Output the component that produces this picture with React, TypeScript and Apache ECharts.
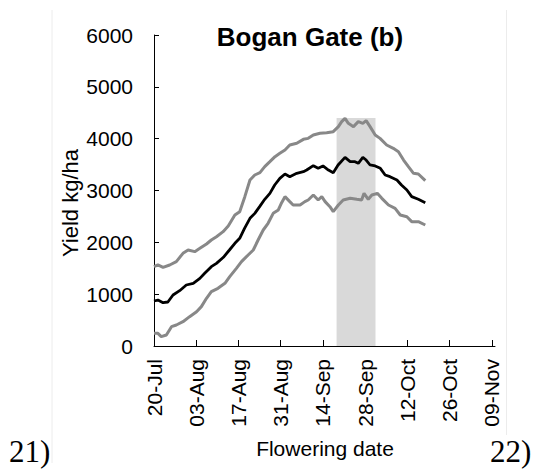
import React, { useEffect, useRef } from "react";
import * as echarts from "echarts";

// X axis: days after 20-Jul
const xTickDays = [0, 14, 28, 42, 56, 70, 84, 98, 112];
const xTickLabels = ["20-Jul", "03-Aug", "17-Aug", "31-Aug", "14-Sep", "28-Sep", "12-Oct", "26-Oct", "09-Nov"];

const meanDays = [0, 1.3, 3, 4.6, 6.3, 8.5, 10.7, 13, 15.2, 16.8, 19, 20.7, 23, 25, 26.8, 28.4, 30, 31.8, 33.4, 35, 36.7, 38.4, 40, 41.7, 43.4, 45, 47.3, 49.5, 50.6, 52.8, 54.4, 56, 57.8, 59.4, 61, 63.3, 65, 66.6, 67.7, 69.2, 70.3, 71.6, 73.3, 75, 76.6, 78.2, 80.5, 82, 83.8, 85.4, 87.6, 89.9];
const meanYield = [868, 887, 836, 849, 984, 1067, 1177, 1209, 1305, 1402, 1530, 1595, 1711, 1852, 1981, 2077, 2270, 2463, 2559, 2688, 2830, 2945, 3106, 3235, 3318, 3267, 3331, 3363, 3395, 3479, 3428, 3473, 3395, 3344, 3492, 3640, 3556, 3556, 3524, 3640, 3588, 3492, 3473, 3428, 3299, 3267, 3203, 3106, 3010, 2881, 2830, 2765];

const upperDays = [0, 1.3, 3, 5.2, 7.4, 9.6, 11.3, 13.5, 15.2, 17.4, 19, 20.7, 22.9, 24.6, 26.8, 28.4, 30.1, 31.8, 33.4, 35.1, 36.7, 38.4, 40.1, 41.7, 43.4, 45, 47.3, 49.5, 51.1, 52.8, 55, 57.2, 59.4, 61.1, 62.2, 63.3, 64.4, 66.1, 67.7, 69.2, 70.3, 71.6, 73.3, 74.9, 77.1, 79.3, 81, 82.7, 84.3, 86, 87.6, 89.9];
const upperYield = [1530, 1563, 1518, 1563, 1627, 1788, 1852, 1820, 1884, 1968, 2045, 2109, 2206, 2315, 2527, 2592, 2881, 3203, 3299, 3344, 3460, 3556, 3653, 3717, 3781, 3878, 3910, 3987, 4006, 4071, 4103, 4116, 4135, 4232, 4328, 4392, 4296, 4232, 4328, 4296, 4347, 4232, 4071, 4006, 3878, 3813, 3749, 3588, 3460, 3331, 3318, 3190];

const lowerDays = [0, 1.3, 2.4, 4.1, 5.8, 7.4, 9.6, 11.8, 14.1, 15.7, 17.4, 19, 21.2, 23.5, 25.1, 27.3, 29, 31.2, 32.9, 34.5, 36.2, 37.8, 39.5, 41.2, 42.3, 43.4, 45, 46.1, 48.4, 50, 51.1, 52.8, 54.4, 55.6, 56.7, 58.3, 59.4, 61.1, 62.7, 65, 67.2, 68.8, 69.6, 71, 72.2, 74, 75.5, 77.7, 79.9, 81.6, 83.8, 85.4, 87.6, 89.9];
const lowerYield = [244, 244, 180, 212, 373, 405, 469, 566, 662, 759, 920, 1048, 1113, 1209, 1338, 1498, 1627, 1756, 1852, 2045, 2238, 2367, 2559, 2624, 2765, 2881, 2785, 2720, 2720, 2785, 2817, 2913, 2817, 2881, 2785, 2688, 2592, 2720, 2817, 2849, 2830, 2817, 2945, 2830, 2913, 2945, 2849, 2720, 2656, 2527, 2495, 2399, 2399, 2334];

const shadeDays = [60.5, 73.4];
const shadeTop = 4400;

const FONT = "'Liberation Sans', Arial, sans-serif";
const SERIF = "'Liberation Serif', 'Times New Roman', serif";

export default function App() {
  const ref = useRef<HTMLDivElement>(null);
  useEffect(() => {
    document.body.style.margin = "0";
    const chart = echarts.init(ref.current!, null, { renderer: "svg" });
    const pairs = (d: number[], v: number[]) => d.map((x, i) => [x, v[i]]);
    chart.setOption({
      animation: false,
      backgroundColor: "#ffffff",
      grid: { left: 154, right: 52, top: 35, bottom: 125 },
      xAxis: {
        type: "value",
        min: 0,
        max: 113,
        interval: 14,
        axisLine: { show: true, lineStyle: { color: "#000", width: 1 } },
        axisTick: { show: true, inside: true, length: 6, customValues: xTickDays, lineStyle: { color: "#000" } },
        axisLabel: {
          customValues: xTickDays,
          rotate: 90,
          margin: 13,
          fontSize: 21,
          fontFamily: FONT,
          color: "#000",
          formatter: (v: number) => {
            const i = xTickDays.indexOf(v);
            return i >= 0 ? xTickLabels[i] : "";
          },
        },
        splitLine: { show: false },
      },
      yAxis: {
        type: "value",
        min: 0,
        max: 6000,
        interval: 1000,
        axisLine: { show: true, lineStyle: { color: "#000", width: 1 } },
        axisTick: { show: true, inside: true, length: 5, lineStyle: { color: "#000" } },
        axisLabel: { margin: 21, fontSize: 21, fontFamily: FONT, color: "#000", formatter: (v: number) => String(v) },
        splitLine: { show: false },
      },
      series: [
        {
          type: "line",
          data: pairs(upperDays, upperYield),
          showSymbol: false,
          lineStyle: { color: "#888888", width: 3 },
          z: 3,
          markArea: {
            silent: true,
            itemStyle: { color: "#d9d9d9" },
            data: [[{ coord: [shadeDays[0], 0] }, { coord: [shadeDays[1], shadeTop] }]],
          },
        },
        {
          type: "line",
          data: pairs(lowerDays, lowerYield),
          showSymbol: false,
          lineStyle: { color: "#888888", width: 3 },
          z: 3,
        },
        {
          type: "line",
          data: pairs(meanDays, meanYield),
          showSymbol: false,
          lineStyle: { color: "#000000", width: 2.8 },
          z: 4,
        },
      ],
      graphic: [
        { type: "line", shape: { x1: 52, y1: 10, x2: 52, y2: 463 }, style: { stroke: "#ececec", lineWidth: 1 } },
        { type: "line", shape: { x1: 506.5, y1: 10, x2: 506.5, y2: 435 }, style: { stroke: "#ececec", lineWidth: 1 } },
        {
          type: "text",
          x: 310,
          y: 37,
          style: { text: "Bogan Gate (b)", font: `bold 26px ${FONT}`, fill: "#000", align: "center", verticalAlign: "middle" },
        },
        {
          type: "text",
          x: 70,
          y: 203,
          rotation: Math.PI / 2,
          style: { text: "Yield kg/ha", font: `22px ${FONT}`, fill: "#000", align: "center", verticalAlign: "middle" },
        },
        {
          type: "text",
          x: 325,
          y: 448,
          style: { text: "Flowering date", font: `21px ${FONT}`, fill: "#000", align: "center", verticalAlign: "middle" },
        },
        {
          type: "text",
          x: 9,
          y: 451,
          style: { text: "21)", font: `31px ${SERIF}`, fill: "#000", align: "left", verticalAlign: "middle" },
        },
        {
          type: "text",
          x: 490,
          y: 451,
          style: { text: "22)", font: `31px ${SERIF}`, fill: "#000", align: "left", verticalAlign: "middle" },
        },
      ],
    });
    return () => chart.dispose();
  }, []);
  return <div ref={ref} style={{ width: 547, height: 471 }} />;
}
